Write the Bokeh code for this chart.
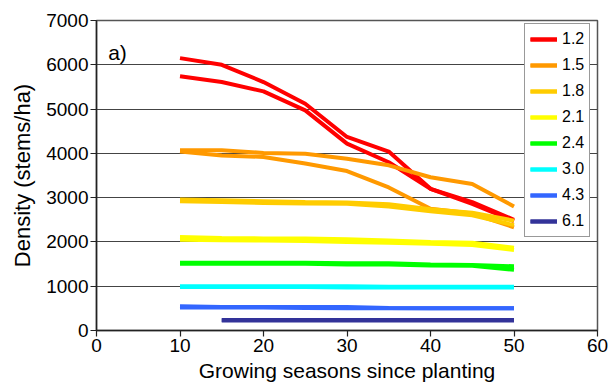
from bokeh.plotting import figure
from bokeh.models import FixedTicker, Legend, LegendItem, Label
from bokeh.embed import file_html
from bokeh.resources import INLINE

# ---- data ----
years = [10, 15, 20, 25, 30, 35, 40, 45, 50]
years_61 = [15, 20, 25, 30, 35, 40, 45, 50]

spacing_labels = ["1.2", "1.5", "1.8", "2.1", "2.4", "3.0", "4.3", "6.1"]

d12_a = [6150, 6000, 5610, 5120, 4370, 4040, 3200, 2900, 2500]
d12_b = [5740, 5610, 5400, 4970, 4220, 3800, 3200, 2860, 2470]
d15_a = [4070, 4070, 4010, 3990, 3880, 3730, 3460, 3310, 2800]
d15_b = [4040, 3950, 3920, 3770, 3600, 3230, 2750, 2640, 2330]
d18_a = [2960, 2940, 2920, 2900, 2890, 2850, 2740, 2660, 2480]
d18_b = [2920, 2900, 2880, 2870, 2860, 2800, 2690, 2600, 2380]
d21_a = [2110, 2090, 2080, 2080, 2060, 2030, 2000, 1980, 1870]
d21_b = [2050, 2040, 2030, 2020, 2000, 1980, 1960, 1930, 1820]
d24_a = [1530, 1530, 1530, 1530, 1520, 1520, 1490, 1480, 1450]
d24_b = [1510, 1510, 1510, 1510, 1490, 1490, 1470, 1460, 1370]
d30_a = [1000, 1000, 1000, 1000, 1000, 990, 990, 990, 990]
d30_b = [980, 980, 980, 980, 970, 970, 970, 970, 970]
d43_a = [550, 530, 530, 530, 530, 510, 500, 500, 500]
d43_b = [520, 520, 520, 510, 500, 500, 500, 500, 500]
d61_a = [235, 235, 235, 235, 235, 235, 235, 235]
d61_b = [225, 225, 225, 225, 225, 225, 225, 225]

x_ticks = [0, 10, 20, 30, 40, 50, 60]
y_ticks = [0, 1000, 2000, 3000, 4000, 5000, 6000, 7000]

colors = ["#FF0000", "#FF9900", "#FFCC00", "#FFFF00", "#00FF00", "#00FFFF", "#3366FF", "#333399"]

series = [
    (years, d12_a, d12_b),
    (years, d15_a, d15_b),
    (years, d18_a, d18_b),
    (years, d21_a, d21_b),
    (years, d24_a, d24_b),
    (years, d30_a, d30_b),
    (years, d43_a, d43_b),
    (years_61, d61_a, d61_b),
]

FONT = "Liberation Sans"

p = figure(width=611, height=385, x_range=(0, 60), y_range=(0, 7000),
           output_backend="svg", toolbar_location=None,
           min_border_left=96, min_border_right=14, min_border_top=20, min_border_bottom=55)

p.background_fill_color = "white"
p.border_fill_color = "white"
p.outline_line_color = "#555555"
p.outline_line_width = 1.5

p.xgrid.grid_line_color = None
p.ygrid.grid_line_color = "#444444"
p.ygrid.grid_line_width = 1
p.ygrid.ticker = FixedTicker(ticks=y_ticks)

p.xaxis.ticker = FixedTicker(ticks=x_ticks)
p.yaxis.ticker = FixedTicker(ticks=y_ticks)

for ax in (p.xaxis[0], p.yaxis[0]):
    ax.axis_line_color = "#222222"
    ax.axis_line_width = 1.5
    ax.major_tick_line_color = "#222222"
    ax.major_tick_line_width = 1.2
    ax.major_tick_out = 6
    ax.major_tick_in = 0
    ax.minor_tick_line_color = None
    ax.major_label_text_font = FONT
    ax.major_label_text_font_size = "19px"
    ax.major_label_text_color = "black"
    ax.major_label_standoff = 2
    ax.axis_label_text_font = FONT
    ax.axis_label_text_font_style = "normal"
    ax.axis_label_text_color = "black"

p.xaxis.axis_label = "Growing seasons since planting"
p.xaxis.axis_label_text_font_size = "21px"
p.xaxis.axis_label_standoff = 4
p.yaxis.axis_label = "Density (stems/ha)"
p.yaxis.axis_label_text_font_size = "22px"
p.yaxis.axis_label_standoff = 8

items = []
for lab, col, (xs, ya, yb) in zip(spacing_labels, colors, series):
    r1 = p.line(xs, ya, line_color=col, line_width=4)
    r2 = p.line(xs, yb, line_color=col, line_width=4)
    items.append(LegendItem(label=lab, renderers=[r1, r2]))

legend = Legend(items=items, location=(428, 93))
legend.label_text_font = FONT
legend.label_text_font_size = "16px"
legend.label_text_color = "black"
legend.glyph_width = 27
legend.glyph_height = 20
legend.label_height = 20
legend.spacing = 6
legend.padding = 5
legend.margin = 0
legend.label_standoff = 5
legend.border_line_color = "#333333"
legend.border_line_width = 1
legend.background_fill_color = "white"
legend.background_fill_alpha = 1
p.add_layout(legend)

p.add_layout(Label(x=1.4, y=6280, text="a)", text_font=FONT, text_font_size="21px",
                   text_color="black", text_baseline="alphabetic"))

open("out.html", "w").write(file_html(p, INLINE))
